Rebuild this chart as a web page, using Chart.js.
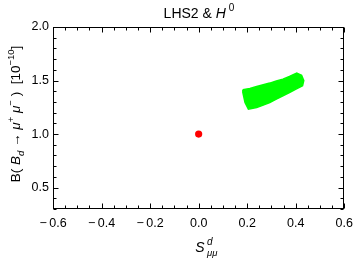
<!DOCTYPE html>
<html lang="en">
<head>
<meta charset="UTF-8">
<title>LHS2 &amp; H0</title>
<script src="https://cdn.jsdelivr.net/npm/chart.js"></script>
<style>
  body { margin: 0; background: #fff; }
  #wrap { width: 360px; height: 263px; }
</style>
</head>
<body>
<div id="wrap"><canvas id="chart"></canvas></div>
<script>
// allowed region (outline, going round clockwise)
const regionX = [0.182, 0.211, 0.239, 0.266, 0.293, 0.320, 0.347, 0.374, 0.404, 0.424, 0.433, 0.428,
                 0.401, 0.374, 0.347, 0.320, 0.293, 0.266, 0.239, 0.205, 0.191, 0.182, 0.182];
const regionY = [1.413, 1.426, 1.444, 1.460, 1.476, 1.495, 1.513, 1.538, 1.570, 1.548, 1.500, 1.451,
                 1.420, 1.388, 1.357, 1.326, 1.295, 1.270, 1.248, 1.233, 1.295, 1.388, 1.413];
// SM point
const smX = [0.0];
const smY = [1.0];

const xTicks = [-0.6, -0.4, -0.2, 0.0, 0.2, 0.4, 0.6];
const yTicks = [0.5, 1.0, 1.5, 2.0];
const xMin = -0.6, xMax = 0.6, yMin = 0.3, yMax = 2.0;

const FONT = "'Liberation Sans', Arial, sans-serif";

const fmt = v => (v < 0 ? '\u2212\u2009' : '') + Math.abs(v).toFixed(1);

// draws a list of text pieces, centred on (cx, cy); pieces can be italic, raised or lowered
function drawRich(ctx, segs, cx, cy, rot) {
  const font = s => (s.it ? 'italic ' : '') + s.sz + 'px ' + FONT;
  let total = 0;
  segs.forEach(s => {
    ctx.font = font(s);
    s.w = ctx.measureText(s.t).width;
    if (!s.stay) total += s.w + (s.dx || 0);
  });
  ctx.save();
  ctx.translate(cx, cy);
  ctx.rotate(rot || 0);
  ctx.fillStyle = '#000';
  ctx.textBaseline = 'alphabetic';
  ctx.textAlign = 'left';
  let x = -total / 2;
  segs.forEach(s => {
    ctx.font = font(s);
    x += (s.dx || 0);
    ctx.fillText(s.t, x, s.dy || 0);
    if (!s.stay) x += s.w;
  });
  ctx.restore();
}

const frame = {
  id: 'frame',
  afterDatasetsDraw(chart) {
    const { ctx, chartArea: a, scales } = chart;
    const L = Math.round(a.left) + 0.5, R = Math.round(a.right) - 0.5;
    const T = Math.round(a.top) + 0.5, B = Math.round(a.bottom) - 0.5;
    ctx.save();
    ctx.strokeStyle = '#000';
    ctx.lineWidth = 1;
    ctx.strokeRect(L, T, R - L, B - T);
    ctx.beginPath();
    for (let i = 0; i <= 24; i++) {
      const v = xMin + i * 0.05;
      const len = i % 4 === 0 ? 5 : 3;
      const px = Math.round(scales.x.getPixelForValue(v)) + 0.5;
      ctx.moveTo(px, B); ctx.lineTo(px, B - len);
      ctx.moveTo(px, T); ctx.lineTo(px, T + len);
    }
    for (let i = 0; i <= 17; i++) {
      const v = yMin + i * 0.1;
      const len = Math.abs(v * 2 - Math.round(v * 2)) < 1e-6 ? 5 : 3;
      const py = Math.round(scales.y.getPixelForValue(v)) + 0.5;
      ctx.moveTo(L, py); ctx.lineTo(L + len, py);
      ctx.moveTo(R, py); ctx.lineTo(R - len, py);
    }
    ctx.stroke();
    ctx.restore();

    // title
    drawRich(ctx, [
      { t: 'LHS2 & ', sz: 14 },
      { t: 'H', sz: 14, it: true },
      { t: '0', sz: 10, dy: -7, dx: 3 }
    ], 199, 18);

    // x axis title
    drawRich(ctx, [
      { t: 'S', sz: 14, it: true },
      { t: 'd', sz: 10, it: true, dy: -7, dx: 2.5, stay: true },
      { t: '\u03bc\u03bc', sz: 9.5, it: true, dy: 4 }
    ], 205, 251.5);

    // y axis title
    drawRich(ctx, [
      { t: 'B( ', sz: 13.5 },
      { t: 'B', sz: 13.5, it: true },
      { t: 'd', sz: 9.5, it: true, dy: 3.5 },
      { t: ' \u2192 ', sz: 13.5 },
      { t: '\u03bc', sz: 13.5, it: true },
      { t: '+', sz: 9.5, dy: -6 },
      { t: ' ', sz: 13.5 },
      { t: '\u03bc', sz: 13.5, it: true },
      { t: '\u2212', sz: 9.5, dy: -6 },
      { t: ' )  [10', sz: 13.5 },
      { t: '\u221210', sz: 9.5, dy: -6 },
      { t: ']', sz: 13.5 }
    ], 20, 114, -Math.PI / 2);
  }
};

new Chart(document.getElementById('chart'), {
  type: 'scatter',
  data: {
    datasets: [
      {
        data: regionX.map((x, i) => ({ x: x, y: regionY[i] })),
        showLine: true,
        fill: 'shape',
        tension: 0,
        backgroundColor: '#00ff00',
        borderColor: '#00ff00',
        borderWidth: 1.5,
        pointRadius: 0
      },
      {
        data: smX.map((x, i) => ({ x: x, y: smY[i] })),
        backgroundColor: '#ff0000',
        borderWidth: 0,
        pointRadius: 3.6
      }
    ]
  },
  options: {
    responsive: true,
    maintainAspectRatio: false,
    animation: false,
    events: [],
    layout: { padding: { top: 27, right: 11, left: 0, bottom: 0 } },
    plugins: {
      legend: { display: false },
      tooltip: { enabled: false },
      title: { display: false }
    },
    scales: {
      x: {
        type: 'linear',
        min: xMin, max: xMax,
        afterFit: s => { s.height = 54; },
        afterBuildTicks: s => { s.ticks = xTicks.map(v => ({ value: v })); },
        grid: { display: false, drawTicks: false },
        border: { display: false },
        ticks: { color: '#000', font: { family: FONT, size: 12.5 }, padding: 7, maxRotation: 0, callback: fmt }
      },
      y: {
        type: 'linear',
        min: yMin, max: yMax,
        afterFit: s => { s.width = 53; },
        afterBuildTicks: s => { s.ticks = yTicks.map(v => ({ value: v })); },
        grid: { display: false, drawTicks: false },
        border: { display: false },
        ticks: { color: '#000', font: { family: FONT, size: 12.5 }, padding: 4, callback: fmt }
      }
    }
  },
  plugins: [frame]
});
</script>
</body>
</html>
